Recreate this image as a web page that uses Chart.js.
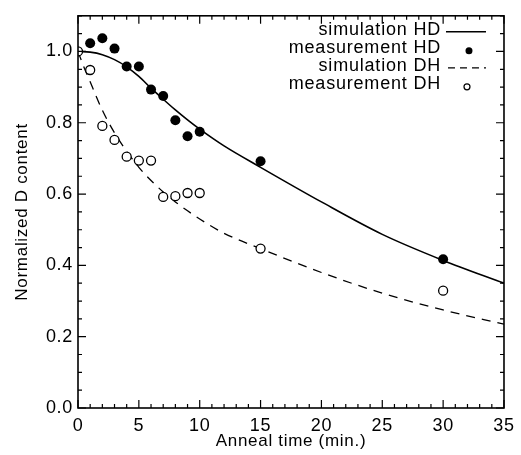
<!DOCTYPE html>
<html>
<head>
<meta charset="utf-8">
<script src="https://cdn.jsdelivr.net/npm/chart.js@4.4.1/dist/chart.umd.min.js"></script>
<style>
  body { margin: 0; background: #fff; }
</style>
</head>
<body>
<canvas id="chartCanvas" width="521" height="455"></canvas>
<script>
// Courbes de simulation
const tempsSimuHD = [0, 1, 2, 3, 4, 5, 6, 7, 8, 9, 10, 12, 15, 20, 25, 30, 35];
const simuHD = [1.0, 0.998, 0.991, 0.977, 0.957, 0.93, 0.897, 0.866, 0.836, 0.808, 0.782, 0.735, 0.675, 0.578, 0.487, 0.414, 0.35];
const tempsSimuDH = [0, 0.5, 1, 2, 3, 4, 5, 6, 7, 8, 9, 10, 12, 15, 20, 25, 30, 35];
const simuDH = [1.0, 0.955, 0.915, 0.835, 0.772, 0.72, 0.675, 0.638, 0.606, 0.578, 0.553, 0.53, 0.49, 0.447, 0.38, 0.322, 0.275, 0.235];

// Mesures
const tempsMesureHD = [1, 2, 3, 4, 5, 6, 7, 8, 9, 10, 15, 30];
const mesureHD = [1.023, 1.037, 1.008, 0.958, 0.958, 0.893, 0.875, 0.807, 0.762, 0.775, 0.692, 0.417];
const tempsMesureDH = [0, 1, 2, 3, 4, 5, 6, 7, 8, 9, 10, 15, 30];
const mesureDH = [1.0, 0.948, 0.791, 0.752, 0.705, 0.694, 0.694, 0.592, 0.594, 0.603, 0.603, 0.447, 0.329];

const etiquettes = ['simulation HD', 'measurement HD', 'simulation DH', 'measurement DH'];

const police = "'Liberation Sans', Arial, Helvetica, sans-serif";

function versPoints(xs, ys) {
    return xs.map((x, i) => ({ x: x, y: ys[i] }));
}

// cadre complet + graduations vers l'interieur (comme la figure d'origine)
const cadrePlugin = {
    id: 'cadre',
    beforeDraw(chart) {
        chart.ctx.letterSpacing = '0.7px'; // le texte scanné est un peu plus large
    },
    afterDatasetsDraw(chart) {
        const ctx = chart.ctx;
        const a = chart.chartArea;
        const sx = chart.scales.x;
        const sy = chart.scales.y;
        ctx.save();
        ctx.strokeStyle = '#000';
        ctx.lineWidth = 1.6;
        ctx.strokeRect(a.left, a.top, a.right - a.left, a.bottom - a.top);
        ctx.lineWidth = 1.2;
        ctx.beginPath();
        for (let i = 0; i <= 35; i++) {
            const px = sx.getPixelForValue(i);
            const l = i % 5 === 0 ? 8 : 4;
            ctx.moveTo(px, a.bottom);
            ctx.lineTo(px, a.bottom - l);
            ctx.moveTo(px, a.top);
            ctx.lineTo(px, a.top + l);
        }
        for (let i = 0; i <= 22; i++) {
            const py = sy.getPixelForValue(i * 0.05);
            const l = i % 4 === 0 ? 8 : 4;
            ctx.moveTo(a.left, py);
            ctx.lineTo(a.left + l, py);
            ctx.moveTo(a.right, py);
            ctx.lineTo(a.right - l, py);
        }
        ctx.stroke();
        ctx.restore();
    }
};

// legende dans le coin haut droit, texte a gauche du symbole
const legendePlugin = {
    id: 'legende',
    afterDraw(chart) {
        const ctx = chart.ctx;
        const a = chart.chartArea;
        const xTexte = a.right - 63;
        ctx.save();
        ctx.font = '18px ' + police;
        ctx.letterSpacing = '0.8px';
        ctx.fillStyle = '#000';
        ctx.strokeStyle = '#000';
        ctx.textAlign = 'right';
        ctx.textBaseline = 'alphabetic';
        etiquettes.forEach((txt, i) => {
            const y = a.top + 19 + 18 * i;
            ctx.fillText(txt, xTexte, y);
            ctx.beginPath();
            if (i === 0) {
                ctx.lineWidth = 1.5;
                ctx.moveTo(a.right - 58, y - 3);
                ctx.lineTo(a.right - 18, y - 3);
                ctx.stroke();
            } else if (i === 1) {
                ctx.arc(a.right - 35, y - 2, 3.5, 0, Math.PI * 2);
                ctx.fill();
            } else if (i === 2) {
                ctx.lineWidth = 1.3;
                ctx.setLineDash([7, 5]);
                ctx.moveTo(a.right - 56, y - 3);
                ctx.lineTo(a.right - 18, y - 3);
                ctx.stroke();
                ctx.setLineDash([]);
            } else {
                ctx.lineWidth = 1.2;
                ctx.arc(a.right - 37, y - 2, 3, 0, Math.PI * 2);
                ctx.stroke();
            }
        });
        ctx.restore();
    }
};

const ctx = document.getElementById('chartCanvas').getContext('2d');

new Chart(ctx, {
    type: 'scatter',
    data: {
        datasets: [
            {
                label: etiquettes[0],
                data: versPoints(tempsSimuHD, simuHD),
                showLine: true,
                borderColor: '#000',
                borderWidth: 1.6,
                pointRadius: 0,
                cubicInterpolationMode: 'monotone',
                order: 2
            },
            {
                label: etiquettes[1],
                data: versPoints(tempsMesureHD, mesureHD),
                pointRadius: 5,
                pointBackgroundColor: '#000',
                pointBorderColor: '#000',
                pointBorderWidth: 0,
                order: 1
            },
            {
                label: etiquettes[2],
                data: versPoints(tempsSimuDH, simuDH),
                showLine: true,
                borderColor: '#000',
                borderWidth: 1.3,
                borderDash: [9, 7],
                pointRadius: 0,
                cubicInterpolationMode: 'monotone',
                order: 2
            },
            {
                label: etiquettes[3],
                data: versPoints(tempsMesureDH, mesureDH),
                pointRadius: 4.5,
                pointBackgroundColor: '#fff',
                pointBorderColor: '#000',
                pointBorderWidth: 1.3,
                clip: 0, // le point a t=0 est coupe par l'axe comme sur la figure
                order: 1
            }
        ]
    },
    options: {
        responsive: false,
        animation: false,
        layout: { padding: { left: 0, top: 11, right: 16, bottom: 0 } },
        plugins: {
            legend: { display: false },
            tooltip: { enabled: false }
        },
        scales: {
            x: {
                type: 'linear',
                min: 0,
                max: 35,
                grid: { display: false, drawTicks: false },
                border: { display: false },
                ticks: {
                    stepSize: 5,
                    autoSkip: false,
                    maxRotation: 0,
                    padding: 7,
                    color: '#000',
                    font: { family: police, size: 18 }
                },
                title: {
                    display: true,
                    text: 'Anneal time (min.)',
                    color: '#000',
                    font: { family: police, size: 17 },
                    padding: { top: 0, bottom: 3 }
                },
                afterFit: function(axis) { axis.height = 47; }
            },
            y: {
                type: 'linear',
                min: 0,
                max: 1.1,
                grid: { display: false, drawTicks: false },
                border: { display: false },
                ticks: {
                    stepSize: 0.2,
                    includeBounds: false,
                    padding: 5,
                    color: '#000',
                    font: { family: police, size: 18 },
                    callback: function(value) {
                        return value.toFixed(1);
                    }
                },
                title: {
                    display: true,
                    text: 'Normalized D content',
                    color: '#000',
                    font: { family: police, size: 17 },
                    padding: { top: 12, bottom: 0 }
                },
                afterFit: function(axis) { axis.width = 78; }
            }
        }
    },
    plugins: [cadrePlugin, legendePlugin]
});
</script>
</body>
</html>
